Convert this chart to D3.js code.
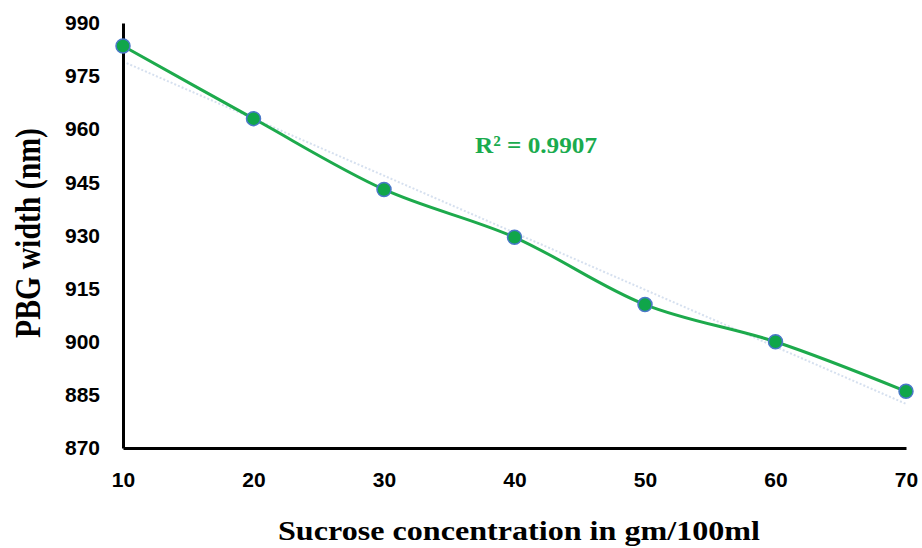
<!DOCTYPE html>
<html>
<head>
<meta charset="utf-8">
<script src="https://cdn.jsdelivr.net/npm/d3@7/dist/d3.min.js"></script>
<style>
  html, body { margin: 0; padding: 0; background: #ffffff; }
  svg { display: block; }
</style>
</head>
<body>
<svg id="chart" width="922" height="548"></svg>
<script>
// Sucrose concentration (gm/100ml) vs. PBG width (nm)
const concentrations = [10, 20, 30, 40, 50, 60, 70];
const pbgWidth = [983.5, 963, 943, 929.5, 910.5, 900, 886];
const yTicks = [870, 885, 900, 915, 930, 945, 960, 975, 990];
const xTicks = [10, 20, 30, 40, 50, 60, 70];
const rSquaredLabel = "R\u00B2 = 0.9907";
const xTitle = "Sucrose concentration  in gm/100ml";
const yTitle = "PBG width  (nm)";

const svg = d3.select("#chart");

const x = d3.scaleLinear().domain([10, 70]).range([123, 906]);
const y = d3.scaleLinear().domain([870, 990]).range([448, 23]);

const data = concentrations.map((c, i) => ({ x: c, y: pbgWidth[i] }));

// Least-squares linear trendline
const mx = d3.mean(data, d => d.x);
const my = d3.mean(data, d => d.y);
const slope = d3.sum(data, d => (d.x - mx) * (d.y - my)) / d3.sum(data, d => (d.x - mx) ** 2);
const intercept = my - slope * mx;
const trend = [10, 70].map(v => ({ x: v, y: intercept + slope * v }));

svg.append("path")
  .datum(trend)
  .attr("fill", "none")
  .attr("stroke", "#d6e0ef")
  .attr("stroke-width", 2)
  .attr("stroke-dasharray", "2,2")
  .attr("d", d3.line().x(d => x(d.x)).y(d => y(d.y)));

// Axes (lines and labels only, no tick marks)
const yAxis = svg.append("g")
  .attr("transform", `translate(${x(10)},0)`)
  .call(d3.axisLeft(y).tickValues(yTicks).tickSize(0).tickPadding(23).tickFormat(d3.format("d")));
yAxis.select(".domain").attr("stroke", "#000").attr("stroke-width", 3);

const xAxis = svg.append("g")
  .attr("transform", `translate(0,${y(870)})`)
  .call(d3.axisBottom(x).tickValues(xTicks).tickSize(0).tickPadding(24).tickFormat(d3.format("d")));
xAxis.select(".domain").attr("stroke", "#000").attr("stroke-width", 3);

svg.selectAll(".tick text")
  .attr("fill", "#000")
  .style("font-family", "'Liberation Sans', Arial, sans-serif")
  .style("font-weight", "bold")
  .style("font-size", "21px");

// Smoothed data line
svg.append("path")
  .datum(data)
  .attr("fill", "none")
  .attr("stroke", "#1daa4c")
  .attr("stroke-width", 3)
  .attr("d", d3.line().x(d => x(d.x)).y(d => y(d.y)).curve(d3.curveCatmullRom.alpha(0.5)));

// Markers
svg.append("g")
  .selectAll("circle")
  .data(data)
  .join("circle")
  .attr("cx", d => x(d.x))
  .attr("cy", d => y(d.y))
  .attr("r", 7)
  .attr("fill", "#10a64a")
  .attr("stroke", "#4a78c8")
  .attr("stroke-width", 1.5);

// R² annotation
svg.append("text")
  .attr("x", 475)
  .attr("y", 153)
  .attr("textLength", 122)
  .attr("lengthAdjust", "spacingAndGlyphs")
  .attr("fill", "#1aab4e")
  .style("font-family", "'Liberation Serif', 'Times New Roman', serif")
  .style("font-weight", "bold")
  .style("font-size", "24px")
  .text(rSquaredLabel);

// Axis titles
svg.append("text")
  .attr("x", 519)
  .attr("y", 540)
  .attr("text-anchor", "middle")
  .attr("textLength", 482)
  .attr("lengthAdjust", "spacingAndGlyphs")
  .attr("fill", "#000")
  .style("font-family", "'Liberation Serif', 'Times New Roman', serif")
  .style("font-weight", "bold")
  .style("font-size", "27px")
  .text(xTitle);

svg.append("text")
  .attr("transform", "translate(40,233) scale(1.25,1) rotate(-90)")
  .attr("text-anchor", "middle")
  .attr("textLength", 210)
  .attr("lengthAdjust", "spacingAndGlyphs")
  .attr("fill", "#000")
  .style("font-family", "'Liberation Serif', 'Times New Roman', serif")
  .style("font-weight", "bold")
  .style("font-size", "28px")
  .text(yTitle);
</script>
</body>
</html>
